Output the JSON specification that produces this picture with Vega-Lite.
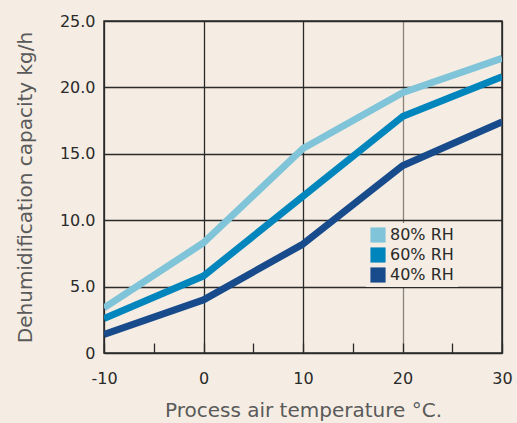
{
  "$schema": "https://vega.github.io/schema/vega-lite/v6.json",
  "width": 398,
  "height": 332,
  "autosize": {"type": "none"},
  "padding": {"left": 104, "top": 21, "right": 15, "bottom": 70},
  "background": "#f5ede3",
  "config": {
    "font": "DejaVu Sans",
    "view": {"stroke": "#2a2a2a", "strokeWidth": 1.5}
  },
  "data": {
    "values": [
      {"temp": -10, "cap": 3.4, "rh": "80% RH"},
      {"temp": 0, "cap": 8.3, "rh": "80% RH"},
      {"temp": 10, "cap": 15.4, "rh": "80% RH"},
      {"temp": 20, "cap": 19.6, "rh": "80% RH"},
      {"temp": 30, "cap": 22.2, "rh": "80% RH"},
      {"temp": -10, "cap": 2.6, "rh": "60% RH"},
      {"temp": 0, "cap": 5.8, "rh": "60% RH"},
      {"temp": 10, "cap": 11.8, "rh": "60% RH"},
      {"temp": 20, "cap": 17.8, "rh": "60% RH"},
      {"temp": 30, "cap": 20.8, "rh": "60% RH"},
      {"temp": -10, "cap": 1.4, "rh": "40% RH"},
      {"temp": 0, "cap": 4.0, "rh": "40% RH"},
      {"temp": 10, "cap": 8.2, "rh": "40% RH"},
      {"temp": 20, "cap": 14.1, "rh": "40% RH"},
      {"temp": 30, "cap": 17.4, "rh": "40% RH"}
    ]
  },
  "mark": {"type": "line", "strokeWidth": 7, "clip": true, "strokeJoin": "round"},
  "encoding": {
    "x": {
      "field": "temp", "type": "quantitative",
      "scale": {"domain": [-10, 30], "nice": false, "zero": false},
      "axis": {
        "values": [-10, -5, 0, 5, 10, 15, 20, 25, 30],
        "labelExpr": "datum.value % 10 != 0 ? '' : (datum.value < 0 ? '-' + abs(datum.value) : '' + datum.value)",
        "grid": true,
        "gridColor": {"condition": [{"test": "datum.value % 10 != 0", "value": "transparent"}, {"test": "datum.value == 20", "value": "#8a827c"}], "value": "#2a2a2a"},
        "gridWidth": 1.3,
        "tickSize": -10,
        "tickColor": "#2a2a2a",
        "tickWidth": 1.3,
        "domain": false,
        "labelFontSize": 16,
        "labelColor": "#2a2a2a",
        "labelPadding": 27,
        "labelFlush": false,
        "title": "Process air temperature °C.",
        "titleFontSize": 20,
        "titleFontWeight": "normal",
        "titleColor": "#5a5a5a",
        "titlePadding": 14
      }
    },
    "y": {
      "field": "cap", "type": "quantitative",
      "scale": {"domain": [0, 25], "nice": false},
      "axis": {
        "values": [0, 5, 10, 15, 20, 25],
        "labelExpr": "datum.value == 0 ? '0' : format(datum.value, '.1f')",
        "grid": true,
        "gridColor": "#2a2a2a",
        "gridWidth": 1.3,
        "ticks": false,
        "domain": false,
        "labelFontSize": 16,
        "labelColor": "#2a2a2a",
        "labelPadding": 9,
        "title": "Dehumidification capacity kg/h",
        "titleFontSize": 20,
        "titleFontWeight": "normal",
        "titleColor": "#5a5a5a",
        "titlePadding": 24
      }
    },
    "color": {
      "field": "rh", "type": "nominal",
      "sort": ["80% RH", "60% RH", "40% RH"],
      "scale": {"domain": ["80% RH", "60% RH", "40% RH"], "range": ["#7fc4d8", "#0085bd", "#174b8c"]},
      "legend": {
        "title": null,
        "orient": "none",
        "legendX": 262,
        "legendY": 202,
        "symbolType": "square",
        "symbolSize": 230,
        "symbolStrokeWidth": 0,
        "symbolOpacity": 1,
        "labelFontSize": 16,
        "labelColor": "#2a2a2a",
        "rowPadding": 4,
        "fillColor": "#f5ede3",
        "padding": 4,
        "encode": {
          "symbols": {"update": {"fill": {"scale": "color", "field": "value"}, "fillOpacity": {"value": 1}}}
        }
      }
    }
  }
}
